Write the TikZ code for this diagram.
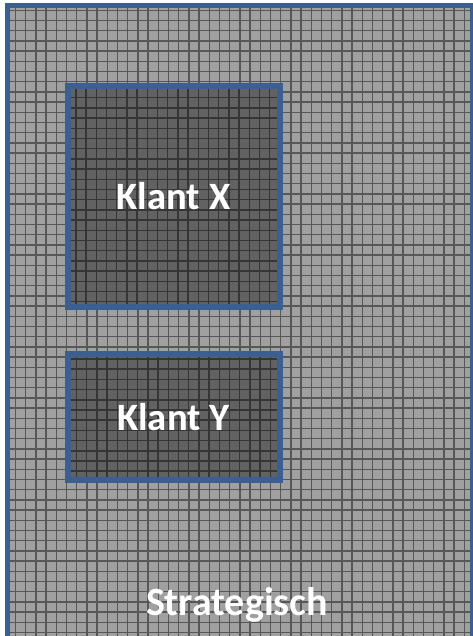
\documentclass[tikz,border=0pt]{standalone}
\usepackage{fontspec}
\setmainfont{Carlito}
\definecolor{FrameBlue}{RGB}{60,95,145}
\definecolor{LightFill}{RGB}{160,160,160}
\definecolor{DarkFill}{RGB}{98,98,98}

\begin{document}
\begin{tikzpicture}[
    x=0.75pt, y=-0.75pt,
    gridlines/.style={draw=black, line width=1.1pt, opacity=0.45},
    gridfill/.style={path picture={
        \draw[gridlines] (path picture bounding box.south west)
            grid[step=7.65pt] (path picture bounding box.north east);}},
    klant/.style={draw=FrameBlue, line width=4.5pt, fill=DarkFill, gridfill,
        minimum width=159pt, minimum height=165.75pt, inner sep=0pt,
        text=white, font=\fontsize{29}{34}\selectfont\bfseries},
]
\clip (0,0) rectangle (473,636);

% --- strategisch vlak ---
\node[draw=FrameBlue, line width=4pt, fill=LightFill, gridfill, inner sep=0pt,
      minimum width=349pt, minimum height=482pt, anchor=north west] (vlak) at (4.5,2.5) {};
\node[text=white, font=\fontsize{30}{36}\selectfont\bfseries] (strategisch) at (237,605) {Strategisch};

% --- klanten ---
\node[klant] (klantx) at (173.5,196.5) {Klant X};
\node[klant, minimum height=94.5pt] (klanty) at (173.5,417) {Klant Y};

\end{tikzpicture}
\end{document}
